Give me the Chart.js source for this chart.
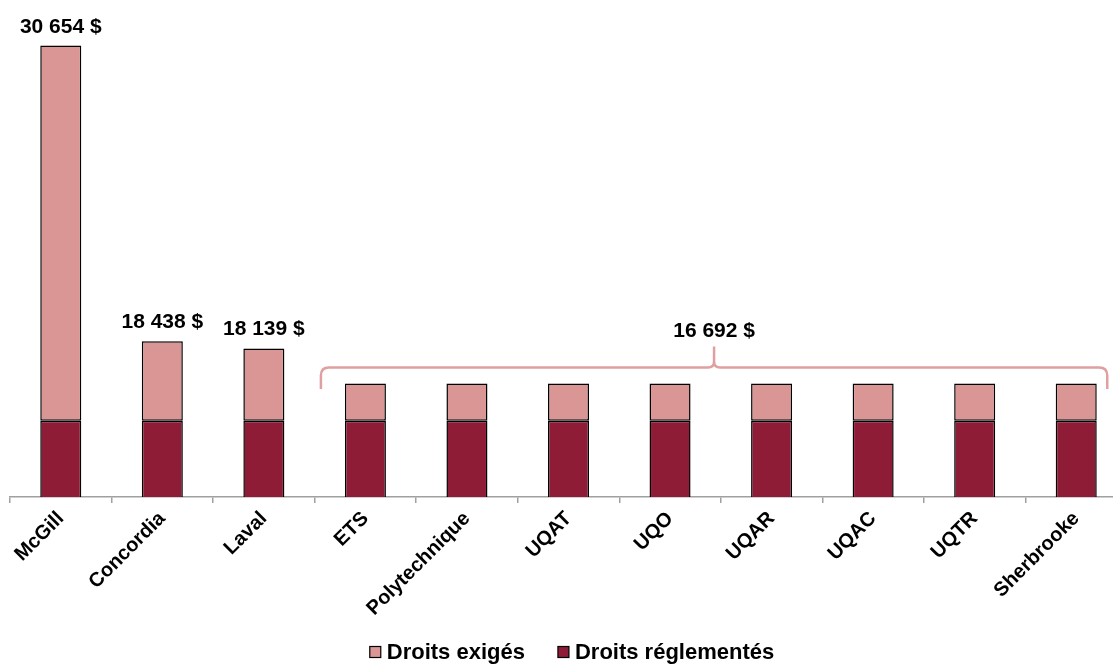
<!DOCTYPE html>
<html>
<head>
<meta charset="utf-8">
<script src="https://cdn.jsdelivr.net/npm/chart.js@4.4.1/dist/chart.umd.min.js"></script>
<style>
  html, body { margin: 0; padding: 0; background: #ffffff; overflow: hidden; }
  #wrap { position: relative; width: 1142px; height: 664px; }
</style>
</head>
<body>
<div id="wrap"><canvas id="c"></canvas></div>
<script>
// ---- data ----
const categories = ['McGill', 'Concordia', 'Laval', 'ETS', 'Polytechnique', 'UQAT', 'UQO', 'UQAR', 'UQAC', 'UQTR', 'Sherbrooke'];
const droitsReglementes = [15150, 15150, 15150, 15150, 15150, 15150, 15150, 15150, 15150, 15150, 15150];
const droitsExiges = [15504, 3288, 2989, 1542, 1542, 1542, 1542, 1542, 1542, 1542, 1542];
const totalLabels = ['30 654 $', '18 438 $', '18 139 $'];
const groupLabel = '16 692 $';
const groupFirst = 3;   // ETS
const groupLast = 10;   // Sherbrooke
const yMin = 12000;
const yMax = 32000;

const PINK = '#D99694';
const DARK = '#8E1C37';
const FONT = "'Liberation Sans', Arial, sans-serif";

const annotations = {
  id: 'annotations',
  afterDatasetsDraw(chart) {
    const ctx = chart.ctx;
    const x = chart.scales.x, y = chart.scales.y;
    ctx.save();
    ctx.fillStyle = '#000';
    ctx.font = 'bold 21px ' + FONT;
    ctx.textAlign = 'center';
    ctx.textBaseline = 'alphabetic';
    for (let i = 0; i < totalLabels.length; i++) {
      const tot = droitsReglementes[i] + droitsExiges[i];
      ctx.fillText(totalLabels[i], x.getPixelForValue(i), y.getPixelForValue(tot) - 13);
    }
    // bracket over group
    const gTot = droitsReglementes[groupFirst] + droitsExiges[groupFirst];
    const top = y.getPixelForValue(gTot);
    const L = x.getPixelForValue(groupFirst) - 44.5;
    const R = x.getPixelForValue(groupLast) + 31;
    const C = (L + R) / 2;
    const yH = top - 16, yE = top + 5.5, yP = top - 37, r = 8;
    ctx.strokeStyle = '#E0A09F';
    ctx.lineWidth = 2.5;
    ctx.beginPath();
    ctx.moveTo(L, yE);
    ctx.lineTo(L, yH + r);
    ctx.quadraticCurveTo(L, yH, L + r, yH);
    ctx.lineTo(C - 6, yH);
    ctx.quadraticCurveTo(C, yH, C, yH - 6);
    ctx.lineTo(C, yP);
    ctx.moveTo(C, yH - 6);
    ctx.quadraticCurveTo(C, yH, C + 6, yH);
    ctx.lineTo(R - r, yH);
    ctx.quadraticCurveTo(R, yH, R, yH + r);
    ctx.lineTo(R, yE);
    ctx.stroke();
    ctx.fillText(groupLabel, C, yP - 9);
    ctx.restore();
  },
  afterDraw(chart) {
    // legend (order: exigés, réglementés)
    const ctx = chart.ctx;
    const items = [chart.data.datasets[1], chart.data.datasets[0]];
    ctx.save();
    ctx.font = 'bold 22px ' + FONT;
    ctx.textBaseline = 'middle';
    ctx.textAlign = 'left';
    const box = 11, gap = 6, itemGap = 33;
    const widths = items.map(d => ctx.measureText(d.label).width);
    const total = widths.reduce((a, w) => a + box + gap + w, 0) + itemGap * (items.length - 1);
    let cx = 572 - total / 2;
    const cy = 652;
    items.forEach((d, i) => {
      ctx.fillStyle = d.backgroundColor;
      ctx.fillRect(cx, cy - box / 2, box, box);
      ctx.strokeStyle = '#000';
      ctx.lineWidth = 1.2;
      ctx.strokeRect(cx, cy - box / 2, box, box);
      ctx.fillStyle = '#000';
      ctx.fillText(d.label, cx + box + gap, cy + 1);
      cx += box + gap + widths[i] + itemGap;
    });
    ctx.restore();
  }
};

new Chart(document.getElementById('c'), {
  type: 'bar',
  data: {
    labels: categories,
    datasets: [
      { label: 'Droits réglementés', data: droitsReglementes, backgroundColor: DARK, borderColor: '#000', borderWidth: 1.5, borderSkipped: false, barPercentage: 0.404, categoryPercentage: 1 },
      { label: 'Droits exigés', data: droitsExiges, backgroundColor: PINK, borderColor: '#000', borderWidth: 1.5, borderSkipped: false, barPercentage: 0.404, categoryPercentage: 1 }
    ]
  },
  options: {
    responsive: true,
    maintainAspectRatio: false,
    animation: false,
    layout: { padding: { left: 10, right: 15, top: 13, bottom: 42 } },
    plugins: {
      legend: { display: false },
      tooltip: { enabled: false }
    },
    scales: {
      x: {
        stacked: true,
        afterFit(scale) { scale.height = 125; },
        grid: { display: true, drawOnChartArea: false, drawTicks: true, tickLength: 6, color: '#A0A0A0', lineWidth: 1.5 },
        border: { display: true, color: '#A0A0A0', width: 1.5 },
        ticks: { color: '#000', font: { family: FONT, size: 20, weight: 'bold' }, minRotation: 45, maxRotation: 45, autoSkip: false, padding: 4 }
      },
      y: {
        stacked: true,
        display: false,
        min: yMin,
        max: yMax
      }
    }
  },
  plugins: [annotations]
});
</script>
</body>
</html>
